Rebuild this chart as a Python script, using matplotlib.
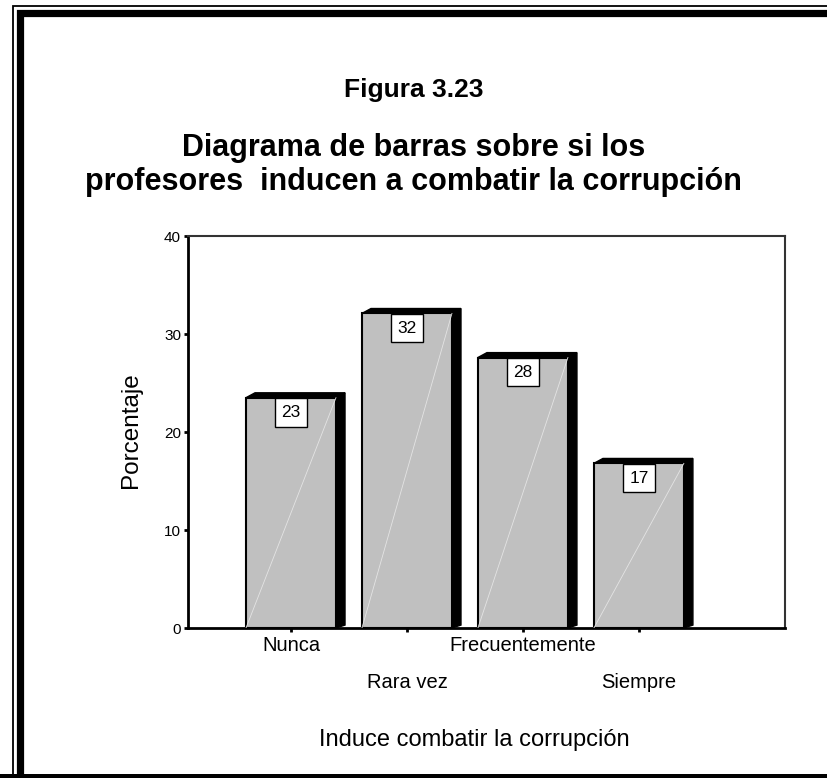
import numpy as np
import matplotlib.pyplot as plt
from matplotlib.patches import Polygon, Rectangle

plt.rcParams['font.family'] = ['Liberation Sans', 'DejaVu Sans']

# datos del gráfico
categorias = ["Nunca", "Rara vez", "Frecuentemente", "Siempre"]
porcentajes = [23.5, 32.1, 27.6, 16.8]
etiquetas = ["23", "32", "28", "17"]

fig = plt.figure(figsize=(8.27, 7.78), dpi=100)

# marco doble alrededor de la figura
W, H = 827, 778
fig.patches.append(Rectangle((12.5 / W, -0.1), 1.2, 1 - 6 / H + 0.1, transform=fig.transFigure,
                             fill=False, ec='black', lw=1.3))
fig.patches.append(Rectangle((19.5 / W, -0.1), 1.2, 1 - 13.5 / H + 0.1, transform=fig.transFigure,
                             fill=False, ec='black', lw=5.2))
fig.patches.append(Rectangle((0, 0), 1, 4 / H, transform=fig.transFigure, fc='black', ec='none'))

fig.text(0.5, 1 - 90 / H, "Figura 3.23", ha='center', va='center', fontsize=19, fontweight='bold')
fig.text(0.5, 1 - 165 / H, "Diagrama de barras sobre si los\nprofesores  inducen a combatir la corrupción",
         ha='center', va='center', fontsize=22, fontweight='bold', linespacing=1.2)

ax = fig.add_axes([188 / W, 1 - 628 / H, (785 - 188) / W, (628 - 236) / H])

x = np.arange(len(categorias))
ancho = 0.776
prof = 0.078   # profundidad del efecto 3d
sube = 0.5

for xi, v, et in zip(x, porcentajes, etiquetas):
    xl = xi - ancho / 2
    xr = xi + ancho / 2
    # cara lateral negra
    ax.add_patch(Polygon([(xr, 0), (xr + prof, sube * 0.6), (xr + prof, v + sube), (xr, v)],
                         closed=True, fc='black', ec='black', lw=1, zorder=2))
    # cara superior negra
    ax.add_patch(Polygon([(xl, v), (xl + prof, v + sube), (xr + prof, v + sube), (xr, v)],
                         closed=True, fc='black', ec='black', lw=1, zorder=2))
    # cara frontal
    ax.add_patch(Rectangle((xl, 0), ancho, v, fc='#c0c0c0', ec='black', lw=1.5, zorder=3))
    ax.plot([xl, xr], [0, v], color='#e4e4e4', lw=0.6, zorder=4)
    ax.text(xi, v - 0.75, et, ha='center', va='top', fontsize=12.5, zorder=5,
            bbox=dict(boxstyle='square,pad=0.38', fc='white', ec='black', lw=1))

ax.set_xlim(-0.888, 3 + 1.26)
ax.set_ylim(0, 40)
ax.set_yticks([0, 10, 20, 30, 40])
ax.tick_params(axis='y', labelsize=11, length=3, width=2, direction='out', pad=2)
ax.set_xticks(x)
ax.set_xticklabels([])
ax.tick_params(axis='x', length=3, width=2, direction='out')

for xi, c in zip(x, categorias):
    yy = -1.8 if xi % 2 == 0 else -5.6
    ax.text(xi, yy, c, ha='center', va='center', fontsize=14.5)

fig.text(131 / W, 1 - 430 / H, "Porcentaje", rotation=90, ha='center', va='center', fontsize=17.5)
fig.text(474 / W, 1 - 740 / H, "Induce combatir la corrupción", ha='center', va='center', fontsize=17)

for s in ['left', 'bottom']:
    ax.spines[s].set_linewidth(2)
for s in ['top', 'right']:
    ax.spines[s].set_linewidth(1.5)
    ax.spines[s].set_color('#333333')

fig.savefig("out.png", dpi=100)
